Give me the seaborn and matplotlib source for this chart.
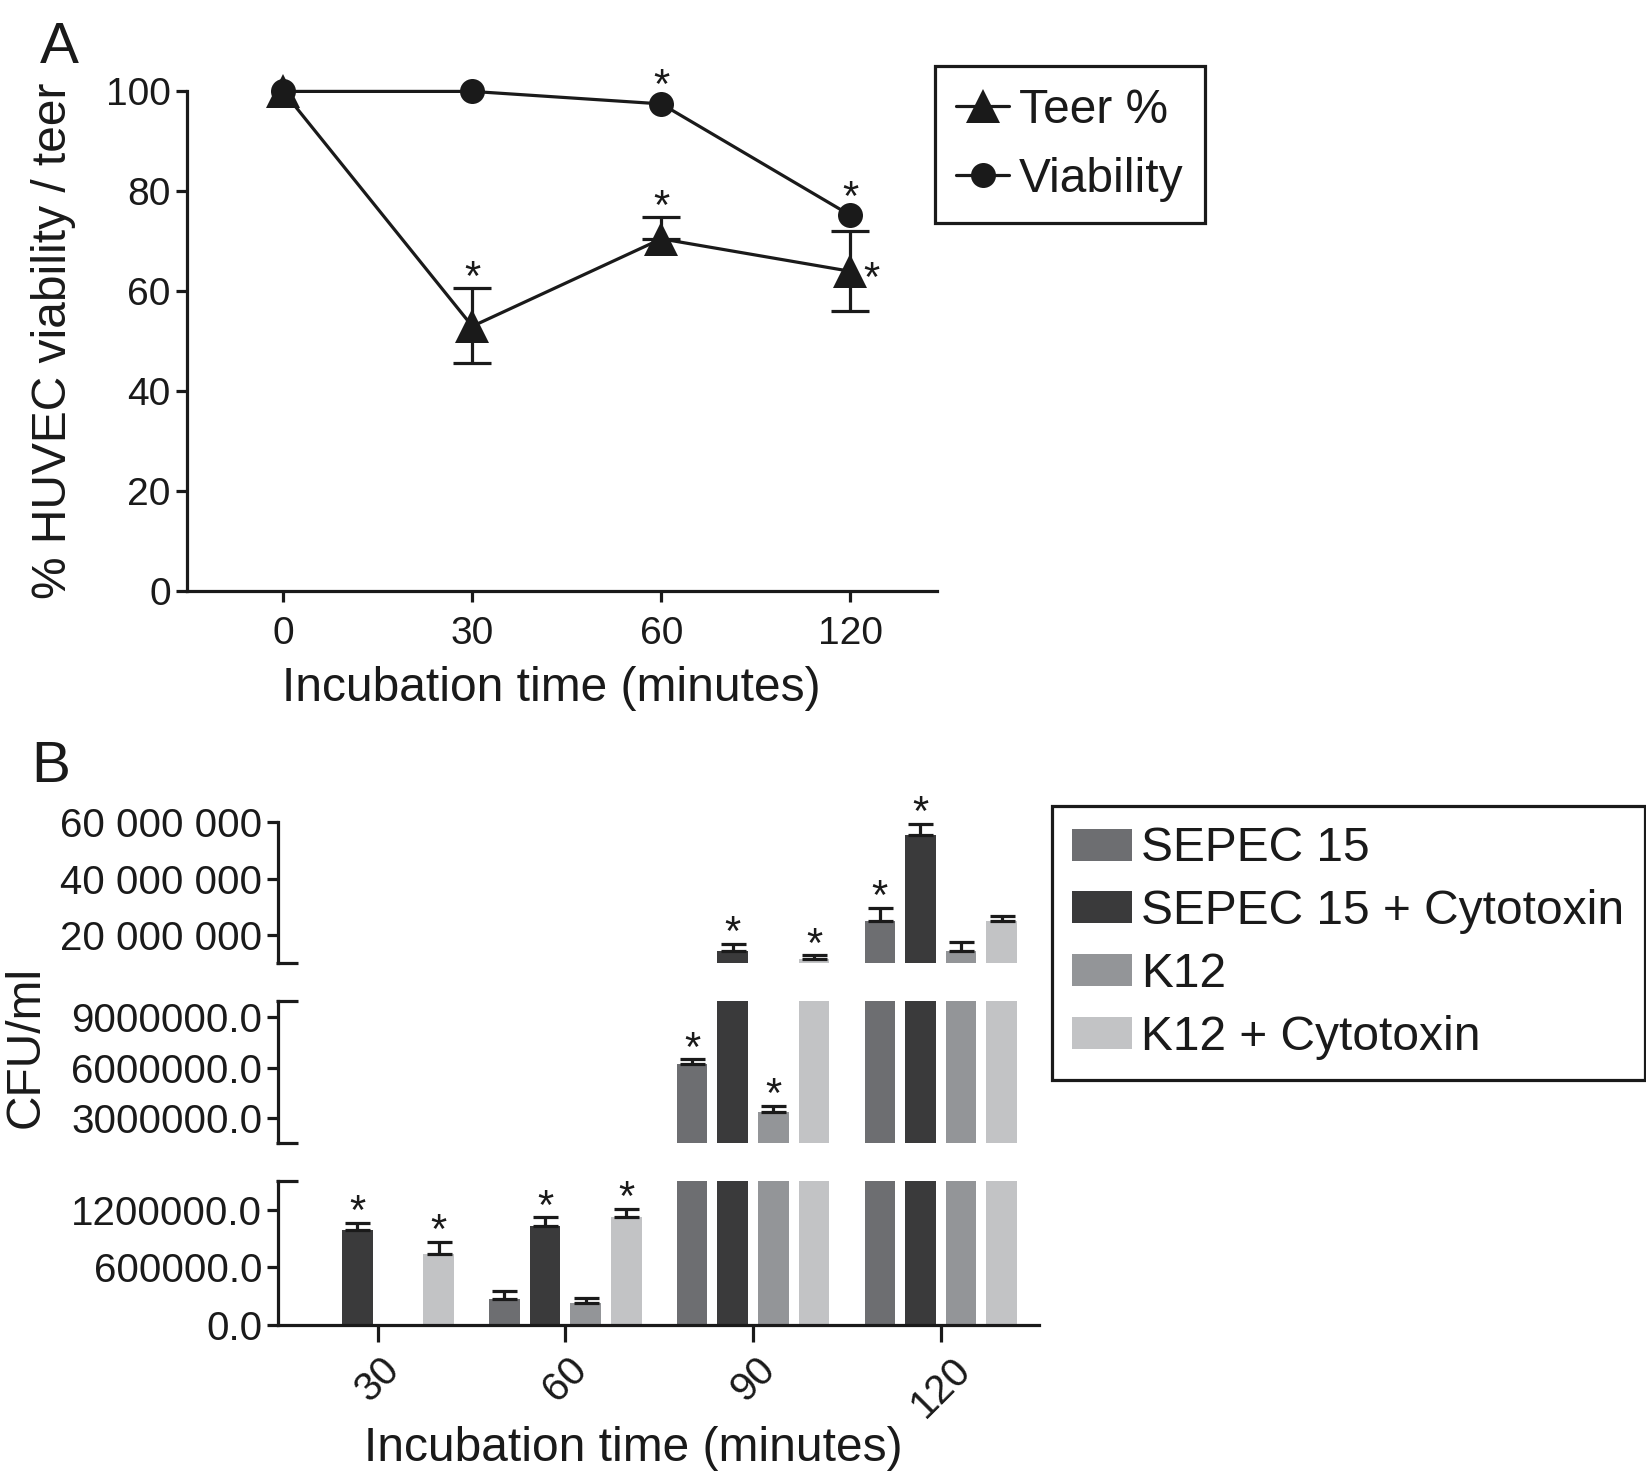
import matplotlib
matplotlib.use("Agg")
import matplotlib.pyplot as plt
import numpy as np
import pandas as pd
import seaborn as sns

# ---- panel A data ----
time_a = ["0", "30", "60", "120"]
teer = [100.0, 53.0, 70.5, 64.0]
teer_err_lo = [0.0, 7.3, 0.0, 8.0]
teer_err_hi = [0.0, 7.6, 4.3, 8.0]
viability = [100.0, 100.0, 97.5, 75.2]
teer_sig = [False, True, True, True]
viab_sig = [False, False, True, True]

# ---- panel B data (CFU/ml) ----
time_b = ["30", "60", "90", "120"]
strains = ["SEPEC 15", "SEPEC 15 + Cytotoxin", "K12", "K12 + Cytotoxin"]
sepec = [0, 271e3, 6.21e6, 25.2e6]
sepec_err = [0, 88e3, 0.3e6, 4.5e6]
sepec_cyto = [986e3, 1.028e6, 14.4e6, 55.5e6]
sepec_cyto_err = [77e3, 95e3, 2.6e6, 3.8e6]
k12 = [0, 225e3, 3.36e6, 14.4e6]
k12_err = [0, 53e3, 0.37e6, 3.4e6]
k12_cyto = [739e3, 1.127e6, 11.8e6, 25.2e6]
k12_cyto_err = [130e3, 85e3, 1.1e6, 1.8e6]
sig_b = [[False, False, True, True],
         [True, True, True, True],
         [False, False, True, False],
         [True, True, True, False]]
bar_colors = ["#6d6e71", "#3a3a3b", "#939598", "#c2c3c5"]

# broken axis segments: (low, high, ticks)
seg_top = (10.3e6, 60e6, [20e6, 40e6, 60e6])
seg_mid = (1.5e6, 10e6, [3e6, 6e6, 9e6])
seg_bot = (0, 1.5e6, [0, 600e3, 1200e3])

sns.set_style("ticks")
plt.rcParams["font.family"] = ["Liberation Sans", "DejaVu Sans"]
LW = 2.3
INK = "#1a1a1a"
plt.rcParams.update({
    "axes.linewidth": LW, "axes.edgecolor": INK,
    "xtick.major.width": LW, "ytick.major.width": LW,
    "xtick.major.size": 8, "ytick.major.size": 8,
    "xtick.color": INK, "ytick.color": INK, "text.color": INK,
    "axes.labelcolor": INK,
})

fig = plt.figure(figsize=(16.46, 14.72), dpi=100)

# ================= Panel A =================
axA = fig.add_axes([0.1135, 0.5984, 0.456, 0.3395])
xa = np.arange(len(time_a))
has_err = np.array(teer_err_hi) > 0
axA.errorbar(xa[has_err], np.array(teer)[has_err],
             yerr=[np.array(teer_err_lo)[has_err], np.array(teer_err_hi)[has_err]],
             fmt="none", ecolor=INK, elinewidth=LW, capsize=13.5,
             capthick=LW, clip_on=False, zorder=2)
sns.lineplot(x=xa, y=teer, ax=axA, color=INK, lw=LW, marker="^",
             markersize=24, markeredgewidth=0, label="Teer %", clip_on=False)
sns.lineplot(x=xa, y=viability, ax=axA, color=INK, lw=LW, marker="o",
             markersize=18, markeredgewidth=0, label="Viability", clip_on=False)
axA.set_xlim(-0.51, 3.46)
axA.set_ylim(0, 100)
axA.set_yticks([0, 20, 40, 60, 80, 100])
axA.set_xticks(xa, time_a)
axA.tick_params(labelsize=28)
axA.tick_params(axis="x", pad=10)
sns.despine(ax=axA)
axA.set_xlabel("Incubation time (minutes)", fontsize=34.5)
axA.set_ylabel("% HUVEC viability / teer", fontsize=34.5)
axA.xaxis.set_label_coords(0.485, -0.15)
axA.yaxis.set_label_coords(-0.148, 0.5)

for i in range(len(xa)):
    if teer_sig[i]:
        if i == 3:
            axA.annotate("*", (xa[i], teer[i]), xytext=(15, -14),
                         textcoords="offset points", ha="center",
                         va="baseline", fontsize=30)
        else:
            axA.annotate("*", (xa[i], teer[i] + teer_err_hi[i]), xytext=(0, -1),
                         textcoords="offset points", ha="center",
                         va="baseline", fontsize=30)
    if viab_sig[i]:
        axA.annotate("*", (xa[i], viability[i]), xytext=(0, 4),
                     textcoords="offset points", ha="center",
                     va="baseline", fontsize=30)

axA.get_legend().remove()
hA, lA = axA.get_legend_handles_labels()
fig.legend(hA, lA, loc="upper left", bbox_to_anchor=(0.568, 0.955),
           bbox_transform=fig.transFigure, borderaxespad=0, fontsize=34.5,
           frameon=True, fancybox=False, edgecolor=INK, framealpha=1,
           handlelength=1.1, handletextpad=0.2, labelspacing=0.5,
           borderpad=0.45).get_frame().set_linewidth(LW)

# ================= Panel B =================
df = pd.DataFrame({
    "time": time_b * 4,
    "strain": np.repeat(strains, len(time_b)),
    "cfu": sepec + sepec_cyto + k12 + k12_cyto,
    "err": sepec_err + sepec_cyto_err + k12_err + k12_cyto_err,
})

ax_top = fig.add_axes([0.169, 0.3459, 0.4624, 0.0956])
ax_mid = fig.add_axes([0.169, 0.2233, 0.4624, 0.0970])
ax_bot = fig.add_axes([0.169, 0.0999, 0.4624, 0.0977])
segments = [(ax_top, seg_top), (ax_mid, seg_mid), (ax_bot, seg_bot)]

for ax, (lo, hi, ticks) in segments:
    sns.barplot(data=df, x="time", y="cfu", hue="strain", order=time_b,
                hue_order=strains, palette=bar_colors, saturation=1,
                width=0.866, gap=0.25, errorbar=None, linewidth=0,
                legend=(ax is ax_bot), ax=ax)
    bar_conts = list(ax.containers)
    for j, cont in enumerate(bar_conts):
        xs = np.array([b.get_x() + b.get_width() / 2 for b in cont])
        vals = df[df.strain == strains[j]]["cfu"].to_numpy()
        errs = df[df.strain == strains[j]]["err"].to_numpy()
        keep = vals > 0
        ax.errorbar(xs[keep], vals[keep],
                    yerr=[np.zeros(keep.sum()), errs[keep]], fmt="none",
                    ecolor=INK, elinewidth=LW, capsize=9, capthick=LW)
        for k in range(len(xs)):
            top = vals[k] + errs[k]
            if sig_b[j][k] and lo < top <= hi:
                ax.annotate("*", (xs[k], top), xytext=(0, -1),
                            textcoords="offset points", ha="center",
                            va="baseline", fontsize=30, annotation_clip=False)
    ax.set_xlim(-0.53, 3.525)
    ax.set_ylim(lo, hi)
    ax.set_yticks(ticks)
    ax.set_ylabel("")
    ax.set_xlabel("")
    ax.tick_params(axis="y", labelsize=29)
    for s in ["top", "right"]:
        ax.spines[s].set_visible(False)

top_lab = [f"{v:,.0f}".replace(",", " ") for v in seg_top[2]]
ax_top.set_yticklabels(top_lab)
ax_mid.set_yticklabels([f"{v:.1f}" for v in seg_mid[2]])
ax_bot.set_yticklabels([f"{v:.1f}" for v in seg_bot[2]])

for ax in (ax_top, ax_mid):
    ax.spines["bottom"].set_visible(False)
    ax.tick_params(axis="x", bottom=False, labelbottom=False)

# end caps on the broken y axis segments
for ax, ends in [(ax_top, [0]), (ax_mid, [0, 1]), (ax_bot, [1])]:
    for e in ends:
        ax.plot([0.012], [e], marker="_", markersize=16, mew=LW, color=INK,
                clip_on=False, transform=ax.transAxes)

ax_bot.tick_params(axis="x", labelsize=29, length=12, pad=6)
for lab in ax_bot.get_xticklabels():
    lab.set_rotation(45)
    lab.set_ha("center")
    lab.set_va("top")

hB, lB = ax_bot.get_legend_handles_labels()
ax_bot.get_legend().remove()
fig.legend(hB, lB, loc="upper left", bbox_to_anchor=(0.639, 0.4522),
           bbox_transform=fig.transFigure, borderaxespad=0, fontsize=34.5,
           frameon=True, fancybox=False, edgecolor=INK, framealpha=1,
           handlelength=1.25, handleheight=0.65, handletextpad=0.2,
           labelspacing=0.37, borderpad=0.42).get_frame().set_linewidth(LW)

fig.text(0.016, 0.289, "CFU/ml", rotation=90, ha="center", va="center",
         fontsize=34.5)
fig.text(0.385, 0.031, "Incubation time (minutes)", ha="center", va="top",
         fontsize=34.5)
fig.text(0.024, 0.9857, "A", fontsize=42, ha="left", va="top")
fig.text(0.019, 0.497, "B", fontsize=42, ha="left", va="top")

fig.savefig("out.png", dpi=100, facecolor="white")
